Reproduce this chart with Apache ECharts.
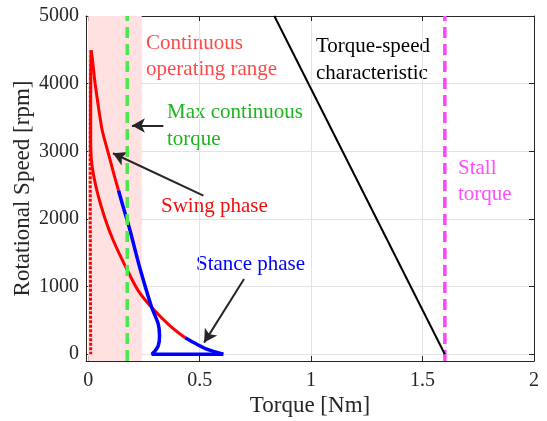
<!DOCTYPE html>
<html><head><meta charset="utf-8">
<script src="https://cdn.jsdelivr.net/npm/echarts@6/dist/echarts.min.js"></script>
<style>html,body{margin:0;padding:0;background:#fff}#c{width:547px;height:421px}</style>
</head><body><div id="c"></div>
<script>
// ---- data (torque [Nm], speed [rpm]) ----
const xTicks = [0, 0.5, 1, 1.5, 2];
const yTicks = [0, 1000, 2000, 3000, 4000, 5000];
const swingOuter = [[0.013,4492],[0.018,4380],[0.024,4200],[0.031,4000],[0.046,3652],[0.063,3307],[0.081,3080],[0.099,2863],[0.117,2640],[0.136,2419]];
const stanceMain = [[0.136,2419],[0.155,2200],[0.173,2000],[0.188,1826],[0.233,1259],[0.285,690],[0.314,449],[0.320,271],[0.314,123],[0.296,34],[0.285,0],[0.606,0]];
const swingInner = [[0.013,4492],[0.011,3752],[0.011,3160],[0.016,2818],[0.039,2419],[0.076,2000],[0.113,1678],[0.173,1259],[0.225,937],[0.285,690],[0.367,420],[0.435,243]];
const stanceTail = [[0.435,243],[0.487,148],[0.532,74],[0.606,0]];
const swingIdle = [[0.013,4492],[0.010,4000],[0.009,3000],[0.009,2000],[0.010,1000],[0.011,0]];
const torqueSpeed = [[0.835,5000],[1.6,0]];
const maxContTorque = 0.175;
const stallTorque = 1.6;
const contRange = [0, 0.24];
const arrows = [
  [[0.337,3381],[0.196,3381]],
  [[0.517,2345],[0.111,2971]],
  [[0.699,1111],[0.520,172]]
];

const serif = 'Liberation Serif';
const chart = echarts.init(document.getElementById('c'));
const axCol = '#262626';
const gridCol = '#e3e3e3';

function vline(x) {
  return [[x, -100], [x, 5000]];
}

chart.setOption({
  animation: false,
  grid: {left: 86, right: 13, top: 16, bottom: 60, containLabel: false, outerBoundsMode: 'none'},
  xAxis: [{
    type: 'value', min: -0.01, max: 2,
    name: 'Torque [Nm]', nameLocation: 'middle', nameGap: 33, nameMoveOverlap: false,
    nameTextStyle: {fontFamily: serif, fontSize: 23, color: axCol},
    axisLine: {onZero: false, lineStyle: {color: axCol, width: 1}},
    axisTick: {inside: true, length: 5, customValues: xTicks, lineStyle: {color: axCol}},
    axisLabel: {customValues: xTicks, fontFamily: serif, fontSize: 20, color: axCol, margin: 10,
      formatter: v => String(v)},
    splitLine: {show: true, lineStyle: {color: gridCol, width: 1}}
  }, {
    type: 'value', min: -0.01, max: 2, position: 'top',
    axisLine: {onZero: false, lineStyle: {color: axCol, width: 1}},
    axisTick: {inside: true, length: 5, customValues: xTicks, lineStyle: {color: axCol}},
    axisLabel: {show: false}, splitLine: {show: false}
  }],
  yAxis: [{
    type: 'value', min: -100, max: 5000,
    name: 'Rotational Speed [rpm]', nameLocation: 'middle', nameGap: 52, nameMoveOverlap: false,
    nameTextStyle: {fontFamily: serif, fontSize: 23, color: axCol},
    axisLine: {onZero: false, show: true, lineStyle: {color: axCol, width: 1}},
    axisTick: {show: true, inside: true, length: 5, customValues: yTicks, lineStyle: {color: axCol}},
    axisLabel: {customValues: yTicks, fontFamily: serif, fontSize: 20, color: axCol, margin: 7,
      formatter: v => String(v)},
    splitLine: {show: true, lineStyle: {color: gridCol, width: 1}}
  }, {
    type: 'value', min: -100, max: 5000, position: 'right',
    axisLine: {onZero: false, show: true, lineStyle: {color: axCol, width: 1}},
    axisTick: {show: true, inside: true, length: 5, customValues: yTicks, lineStyle: {color: axCol}},
    axisLabel: {show: false}, splitLine: {show: false}
  }],
  series: [
    {type: 'line', data: [], silent: true,
      markArea: {silent: true, itemStyle: {color: '#ffe1e1'},
        data: [[{coord: [contRange[0], -100]}, {coord: [contRange[1], 5000]}]]}},
    {type: 'line', data: swingIdle, showSymbol: false, lineStyle: {color: '#ff0000', width: 3, type: [3, 1.5]}, z: 3},
    {type: 'line', data: swingInner, smooth: 0.3, showSymbol: false, lineStyle: {color: '#ff0000', width: 3}, z: 3},
    {type: 'line', data: swingOuter, smooth: 0.3, showSymbol: false, lineStyle: {color: '#ff0000', width: 3}, z: 3},
    {type: 'line', data: stanceMain, smooth: 0.3, showSymbol: false, lineStyle: {color: '#0000ff', width: 3.5}, z: 4},
    {type: 'line', data: stanceTail, smooth: 0.3, showSymbol: false, lineStyle: {color: '#0000ff', width: 3.5}, z: 4},
    {type: 'line', data: vline(maxContTorque), showSymbol: false, lineStyle: {color: '#4de84d', width: 3.5, type: [11, 6]}, z: 5},
    {type: 'line', data: vline(stallTorque), showSymbol: false, lineStyle: {color: '#ff44ff', width: 3.5, type: [11, 6]}, z: 5},
    {type: 'line', data: torqueSpeed, showSymbol: false, lineStyle: {color: '#000000', width: 2}, z: 5},
    {type: 'line', data: [], silent: true, z: 6,
      markLine: {silent: true, animation: false, symbol: ['none', 'arrow'], symbolSize: [11, 13],
        lineStyle: {color: '#262626', width: 2, type: 'solid'}, label: {show: false},
        data: arrows.map(a => [{coord: a[0]}, {coord: a[1]}])}}
  ],
  graphic: [
    {type: 'text', left: 146, top: 30, style: {text: 'Continuous\noperating range', fill: '#ff4a4a', font: '21px "Liberation Serif"', lineHeight: 26}},
    {type: 'text', left: 167, top: 99, style: {text: 'Max continuous\ntorque', fill: '#1db41d', font: '21px "Liberation Serif"', lineHeight: 27}},
    {type: 'text', left: 316, top: 33, style: {text: 'Torque-speed\ncharacteristic', fill: '#000000', font: '21px "Liberation Serif"', lineHeight: 27}},
    {type: 'text', left: 458, top: 155, style: {text: 'Stall\ntorque', fill: '#ff4dff', font: '21px "Liberation Serif"', lineHeight: 26}},
    {type: 'text', left: 161, top: 196, style: {text: 'Swing phase', fill: '#f01010', font: '21px "Liberation Serif"'}},
    {type: 'text', left: 196, top: 254, style: {text: 'Stance phase', fill: '#0000ff', font: '21px "Liberation Serif"'}}
  ]
});
</script></body></html>
